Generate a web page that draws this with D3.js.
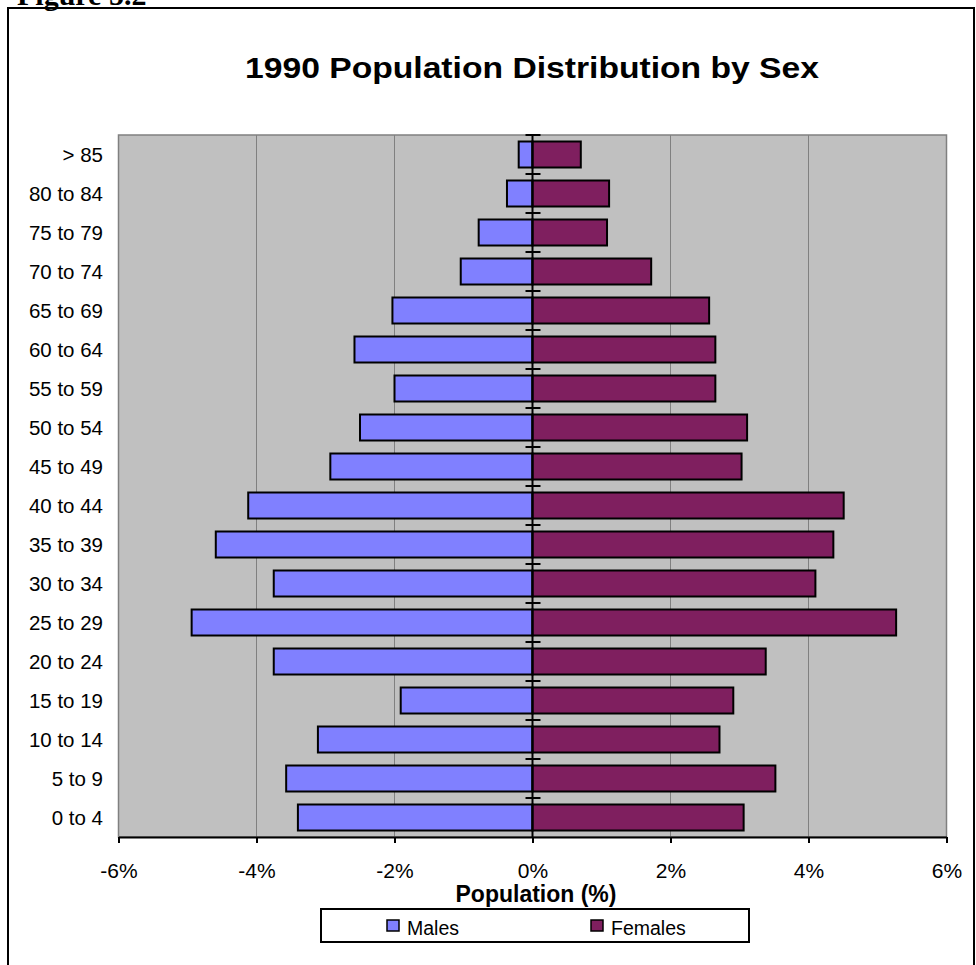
<!DOCTYPE html>
<html>
<head>
<meta charset="utf-8">
<script src="https://cdn.jsdelivr.net/npm/d3@7"></script>
<style>
  body { margin: 0; background: #fff; }
  svg { display: block; font-family: Arial, "Liberation Sans", sans-serif; }
</style>
</head>
<body>
<svg id="chart" width="976" height="965"></svg>
<script>
// age groups, bottom to top like the original sheet
const ageGroups = ["0 to 4", "5 to 9", "10 to 14", "15 to 19", "20 to 24", "25 to 29",
  "30 to 34", "35 to 39", "40 to 44", "45 to 49", "50 to 54", "55 to 59",
  "60 to 64", "65 to 69", "70 to 74", "75 to 79", "80 to 84", "> 85"];

// percent of population (males plotted negative)
const males = [-3.40, -3.57, -3.11, -1.91, -3.75, -4.94, -3.75, -4.59, -4.12,
  -2.93, -2.50, -2.00, -2.58, -2.03, -1.04, -0.78, -0.37, -0.20];
const females = [3.06, 3.52, 2.71, 2.91, 3.38, 5.27, 4.10, 4.36, 4.51,
  3.03, 3.11, 2.65, 2.65, 2.56, 1.72, 1.08, 1.11, 0.70];

const xTicks = [-6, -4, -2, 0, 2, 4, 6];
const seriesNames = ["Males", "Females"];
const colors = { Males: "#8080ff", Females: "#7f1f5f" };

const svg = d3.select("#chart");

// outer frame + figure caption
svg.append("rect")
  .attr("x", 8).attr("y", 8)
  .attr("width", 966).attr("height", 970)
  .attr("fill", "none").attr("stroke", "#000").attr("stroke-width", 2);

svg.append("text")
  .attr("x", 17).attr("y", 5)
  .attr("font-family", "'Liberation Serif', 'Times New Roman', serif")
  .attr("font-weight", "bold").attr("font-size", 30)
  .text("Figure 5.2");

// plot area
const plot = { left: 118.5, right: 946.5, top: 135, bottom: 837 };

const x = d3.scaleLinear().domain([-6, 6]).range([plot.left, plot.right]);
const y = d3.scaleBand()
  .domain(ageGroups.slice().reverse())
  .range([plot.top, plot.bottom])
  .paddingInner(1 / 3).paddingOuter(1 / 6);

svg.append("rect")
  .attr("x", plot.left).attr("y", plot.top)
  .attr("width", plot.right - plot.left).attr("height", plot.bottom - plot.top)
  .attr("fill", "#c0c0c0").attr("stroke", "#808080").attr("stroke-width", 1.5);

// gridlines
svg.append("g").selectAll("line")
  .data(xTicks.filter(d => d !== -6 && d !== 6 && d !== 0))
  .join("line")
  .attr("x1", d => x(d)).attr("x2", d => x(d))
  .attr("y1", plot.top).attr("y2", plot.bottom)
  .attr("stroke", "#808080").attr("stroke-width", 1);

// title
svg.append("text")
  .attr("x", 532).attr("y", 78)
  .attr("text-anchor", "middle")
  .attr("font-weight", "bold").attr("font-size", 30)
  .attr("textLength", 574).attr("lengthAdjust", "spacingAndGlyphs")
  .text("1990 Population Distribution by Sex");

// bars
const rows = ageGroups.map((g, i) => ({ group: g, Males: males[i], Females: females[i] }));

seriesNames.forEach(name => {
  svg.append("g").selectAll("rect")
    .data(rows)
    .join("rect")
    .attr("x", d => x(Math.min(0, d[name])))
    .attr("y", d => y(d.group))
    .attr("width", d => Math.abs(x(d[name]) - x(0)))
    .attr("height", y.bandwidth())
    .attr("fill", colors[name])
    .attr("stroke", "#000").attr("stroke-width", 2);
});

// category axis at zero, with cross ticks between groups
svg.append("line")
  .attr("x1", x(0)).attr("x2", x(0))
  .attr("y1", plot.top).attr("y2", plot.bottom)
  .attr("stroke", "#000").attr("stroke-width", 2);

const step = y.step();
svg.append("g").selectAll("line")
  .data(d3.range(ageGroups.length))
  .join("line")
  .attr("x1", x(0) - 7).attr("x2", x(0) + 8)
  .attr("y1", i => plot.top + i * step).attr("y2", i => plot.top + i * step)
  .attr("stroke", "#000").attr("stroke-width", 2);

// category labels on the left
svg.append("g").selectAll("text")
  .data(ageGroups)
  .join("text")
  .attr("x", 103)
  .attr("y", d => y(d) + y.bandwidth() / 2)
  .attr("dy", "0.36em")
  .attr("text-anchor", "end")
  .attr("font-size", 20.5)
  .text(d => d);

// value axis at the bottom
const xAxis = svg.append("g")
  .attr("transform", `translate(0,${plot.bottom})`)
  .call(d3.axisBottom(x).tickValues(xTicks).tickSize(6).tickSizeOuter(0)
    .tickFormat(d => d + "%"));
xAxis.select(".domain").attr("stroke", "#000").attr("stroke-width", 2);
xAxis.selectAll(".tick line").attr("stroke", "#000").attr("stroke-width", 2);
xAxis.selectAll(".tick text")
  .attr("y", 41).attr("dy", 0)
  .attr("font-size", 21).attr("font-family", "Arial, 'Liberation Sans', sans-serif")
  .attr("fill", "#000");

svg.append("text")
  .attr("x", 536).attr("y", 902)
  .attr("text-anchor", "middle")
  .attr("font-weight", "bold").attr("font-size", 23)
  .text("Population (%)");

// legend
svg.append("rect")
  .attr("x", 321).attr("y", 909)
  .attr("width", 428).attr("height", 33)
  .attr("fill", "#fff").attr("stroke", "#000").attr("stroke-width", 2);

const legendX = [387, 591];
const legend = svg.append("g").selectAll("g")
  .data(seriesNames)
  .join("g")
  .attr("transform", (d, i) => `translate(${legendX[i]},920)`);

legend.append("rect")
  .attr("width", 12).attr("height", 11)
  .attr("fill", d => colors[d])
  .attr("stroke", "#000").attr("stroke-width", 1.5);

legend.append("text")
  .attr("x", 20).attr("y", 15)
  .attr("font-size", 19.5)
  .text(d => d);
</script>
</body>
</html>
